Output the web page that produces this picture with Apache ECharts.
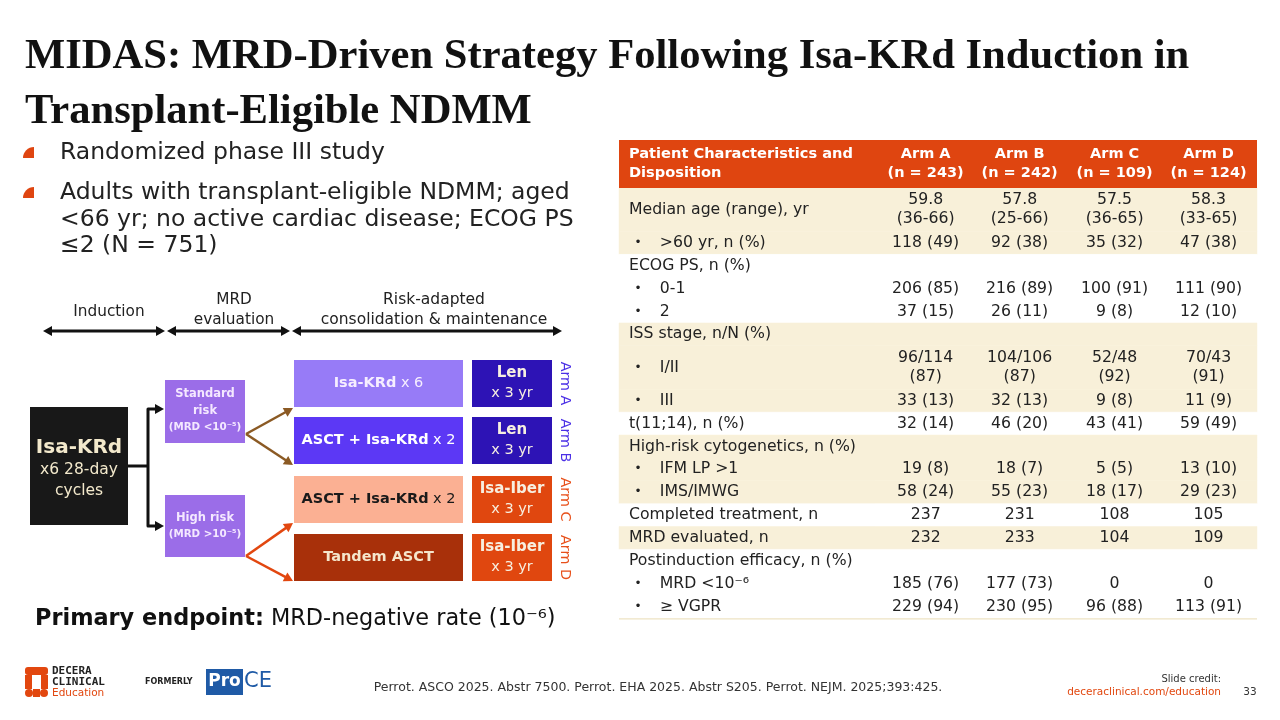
<!DOCTYPE html>
<html><head><meta charset="utf-8">
<script src="https://cdn.jsdelivr.net/npm/echarts@6/dist/echarts.min.js"></script>
<style>html,body{margin:0;padding:0;background:#fff}#c{width:1280px;height:720px}</style>
</head><body><div id="c"></div>
<script>
const FONT = '"DejaVu Sans", "Noto Sans", sans-serif';
const SERIF = '"Liberation Serif", "Times New Roman", serif';

// ---------- text content ----------
const titleLines = ['MIDAS: MRD-Driven Strategy Following Isa-KRd Induction in', 'Transplant-Eligible NDMM'];
const bulletTexts = ['Randomized phase III study', 'Adults with transplant-eligible NDMM; aged\n<66 yr; no active cardiac disease; ECOG PS\n≤2 (N = 751)'];
const phaseHeaders = ['Induction', 'MRD\nevaluation', 'Risk-adapted\nconsolidation & maintenance'];
const riskTexts = ['{b|Standard}\n{b|risk}\n{s|(MRD <10⁻⁵)}', '{b|High risk}\n{s|(MRD >10⁻⁵)}'];
const armConsolidation = ['{b|Isa-KRd}{n| x 6}', '{b|ASCT + Isa-KRd}{n| x 2}', '{b|ASCT + Isa-KRd}{n| x 2}', '{b|Tandem ASCT}'];
const armMaintenance = ['{b|Len}\n{n|x 3 yr}', '{b|Len}\n{n|x 3 yr}', '{b|Isa-Iber}\n{n|x 3 yr}', '{b|Isa-Iber}\n{n|x 3 yr}'];
const armLabels = ['Arm A', 'Arm B', 'Arm C', 'Arm D'];
const citation = 'Perrot. ASCO 2025. Abstr 7500. Perrot. EHA 2025. Abstr S205. Perrot. NEJM. 2025;393:425.';

// ---------- table data ----------
const tableHeaderLabel = 'Patient Characteristics and\nDisposition';
const armNames = ['Arm A', 'Arm B', 'Arm C', 'Arm D'];
const armN = ['(n = 243)', '(n = 242)', '(n = 109)', '(n = 124)'];
const rowLabels = ['Median age (range), yr', '>60 yr, n (%)', 'ECOG PS, n (%)', '0-1', '2',
  'ISS stage, n/N (%)', 'I/II', 'III', 't(11;14), n (%)', 'High-risk cytogenetics, n (%)',
  'IFM LP >1', 'IMS/IMWG', 'Completed treatment, n', 'MRD evaluated, n',
  'Postinduction efficacy, n (%)', 'MRD <10⁻⁶', '≥ VGPR'];
const rowIndent = [0, 1, 0, 1, 1, 0, 1, 1, 0, 0, 1, 1, 0, 0, 0, 1, 1];
const rowLines = [1.9, 1, 1, 1, 1, 1, 1.9, 1, 1, 1, 1, 1, 1, 1, 1, 1, 1];
const rowGroup = [0, 0, 1, 1, 1, 2, 2, 2, 3, 4, 4, 4, 5, 6, 7, 7, 7];
const armA = ['59.8\n(36-66)', '118 (49)', '', '206 (85)', '37 (15)', '', '96/114\n(87)', '33 (13)', '32 (14)', '', '19 (8)', '58 (24)', '237', '232', '', '185 (76)', '229 (94)'];
const armB = ['57.8\n(25-66)', '92 (38)', '', '216 (89)', '26 (11)', '', '104/106\n(87)', '32 (13)', '46 (20)', '', '18 (7)', '55 (23)', '231', '233', '', '177 (73)', '230 (95)'];
const armC = ['57.5\n(36-65)', '35 (32)', '', '100 (91)', '9 (8)', '', '52/48\n(92)', '9 (8)', '43 (41)', '', '5 (5)', '18 (17)', '108', '104', '', '0', '96 (88)'];
const armD = ['58.3\n(33-65)', '47 (38)', '', '111 (90)', '12 (10)', '', '70/43\n(91)', '11 (9)', '59 (49)', '', '13 (10)', '29 (23)', '105', '109', '', '0', '113 (91)'];
const armValues = [armA, armB, armC, armD];

// ---------- layout (table axes units) ----------
const X_MAX = 6.72, HEADER_UNITS = 2.1;
const colCenters = [3.23, 4.22, 5.22, 6.21];
const LABEL_X = 0.105, DOT_X = 0.2, INDENT_X = 0.43;
const yStart = [];
rowLines.reduce((acc, h, i) => { yStart[i] = acc; return acc + h; }, 0);
const Y_MAX = rowLines.reduce((a, b) => a + b, 0);

const ORANGE = '#df4510', CREAM = '#f8f0d9', TXT = '#222222';
const TFS = 15.7;

function renderHeader(params, api) {
  const p0 = api.coord([0, -HEADER_UNITS]);
  const p1 = api.coord([X_MAX, 0]);
  const yc = (p0[1] + p1[1]) / 2;
  const ch = [{ type: 'rect', shape: { x: p0[0], y: p0[1], width: p1[0] - p0[0], height: p1[1] - p0[1] }, style: { fill: ORANGE } }];
  ch.push({ type: 'text', style: { text: tableHeaderLabel, x: api.coord([LABEL_X, 0])[0], y: yc, align: 'left', verticalAlign: 'middle', font: 'bold 14.6px ' + FONT, fill: '#fff', lineHeight: 19 } });
  armNames.forEach((a, j) => {
    ch.push({ type: 'text', style: { text: a + '\n' + armN[j], x: api.coord([colCenters[j], 0])[0], y: yc, align: 'center', verticalAlign: 'middle', font: 'bold 14.5px ' + FONT, fill: '#fff', lineHeight: 19 } });
  });
  return { type: 'group', children: ch };
}

function renderRow(params, api) {
  const i = api.value(0);
  const p0 = api.coord([0, yStart[i]]);
  const p1 = api.coord([X_MAX, yStart[i] + rowLines[i]]);
  const yc = (p0[1] + p1[1]) / 2;
  const bg = rowGroup[i] % 2 === 0 ? CREAM : '#ffffff';
  const ch = [{ type: 'rect', shape: { x: p0[0], y: p0[1], width: p1[0] - p0[0], height: p1[1] - p0[1] }, style: { fill: bg, stroke: bg, lineWidth: 0.5 } }];
  if (rowIndent[i]) {
    ch.push({ type: 'text', style: { text: '•', x: api.coord([DOT_X, 0])[0], y: yc, align: 'center', verticalAlign: 'middle', font: '12px ' + FONT, fill: TXT } });
    ch.push({ type: 'text', style: { text: rowLabels[i], x: api.coord([INDENT_X, 0])[0], y: yc, align: 'left', verticalAlign: 'middle', font: TFS + 'px ' + FONT, fill: TXT } });
  } else {
    ch.push({ type: 'text', style: { text: rowLabels[i], x: api.coord([LABEL_X, 0])[0], y: yc, align: 'left', verticalAlign: 'middle', font: TFS + 'px ' + FONT, fill: TXT } });
  }
  armValues.forEach((arr, j) => {
    if (!arr[i]) return;
    ch.push({ type: 'text', style: { text: arr[i], x: api.coord([colCenters[j], 0])[0], y: yc, align: 'center', verticalAlign: 'middle', font: TFS + 'px ' + FONT, fill: TXT, lineHeight: 19 } });
  });
  return { type: 'group', children: ch };
}

// ---------- graphic helpers ----------
function txt(x, y, text, font, fill, align, extra) {
  return Object.assign({ type: 'text', x: x, y: y, style: { text: text, font: font, fill: fill || TXT, align: align || 'left', verticalAlign: 'middle' } }, extra || {});
}
function rect(x, y, w, h, fill) {
  return { type: 'rect', shape: { x: x, y: y, width: w, height: h }, style: { fill: fill } };
}
function head(x1, y1, x2, y2, color, size) {
  const a = Math.atan2(y2 - y1, x2 - x1);
  const s = size || 9, w = s * 0.55;
  const bx = x2 - s * Math.cos(a), by = y2 - s * Math.sin(a);
  return { type: 'polygon', shape: { points: [[x2, y2], [bx + w * Math.sin(a), by - w * Math.cos(a)], [bx - w * Math.sin(a), by + w * Math.cos(a)]] }, style: { fill: color } };
}
function arrow(x1, y1, x2, y2, color, lw, both, hs) {
  const a = Math.atan2(y2 - y1, x2 - x1), s = (hs || 9) * 0.8;
  const sx = both ? x1 + s * Math.cos(a) : x1, sy = both ? y1 + s * Math.sin(a) : y1;
  const out = [{ type: 'line', shape: { x1: sx, y1: sy, x2: x2 - s * Math.cos(a), y2: y2 - s * Math.sin(a) }, style: { stroke: color, lineWidth: lw } }, head(x1, y1, x2, y2, color, hs)];
  if (both) out.push(head(x2, y2, x1, y1, color, hs));
  return out;
}

const g = [];
// title
g.push(txt(25, 57, titleLines[0], 'bold 42.6px ' + SERIF, '#111'));
g.push(txt(25, 112, titleLines[1], 'bold 42.6px ' + SERIF, '#111'));
// bullets
const bulletY = [152, 192];
bulletY.forEach((y, k) => {
  g.push({ type: 'sector', shape: { cx: 34, cy: y + 6, r0: 0, r: 11, startAngle: Math.PI, endAngle: Math.PI * 1.5 }, style: { fill: ORANGE } });
  g.push({ type: 'text', x: 60, y: y - 12, style: { text: bulletTexts[k], font: '23.5px ' + FONT, fill: TXT, align: 'left', verticalAlign: 'top', lineHeight: 26.5 } });
});

// phase headers
g.push(txt(109, 312, phaseHeaders[0], '15.3px ' + FONT, TXT, 'center'));
g.push({ type: 'text', x: 234, y: 310, style: { text: phaseHeaders[1], font: '15.3px ' + FONT, fill: TXT, align: 'center', verticalAlign: 'middle', lineHeight: 20 } });
g.push({ type: 'text', x: 434, y: 310, style: { text: phaseHeaders[2], font: '15.5px ' + FONT, fill: TXT, align: 'center', verticalAlign: 'middle', lineHeight: 20 } });
g.push(...arrow(43, 331, 165, 331, '#111', 3, true, 9));
g.push(...arrow(167, 331, 290, 331, '#111', 3, true, 9));
g.push(...arrow(292, 331, 562, 331, '#111', 3, true, 9));

// induction box
g.push(rect(30, 407, 98, 118, '#181818'));
g.push(txt(79, 448, 'Isa-KRd', 'bold 20px ' + FONT, '#f3e9cc', 'center'));
g.push({ type: 'text', x: 79, y: 480, style: { text: 'x6 28-day\ncycles', font: '15.5px ' + FONT, fill: '#f3e9cc', align: 'center', verticalAlign: 'middle', lineHeight: 21 } });
// connector
g.push({ type: 'polyline', shape: { points: [[128, 466], [148, 466]] }, style: { stroke: '#111', lineWidth: 3 } });
g.push({ type: 'polyline', shape: { points: [[156, 409], [148, 409], [148, 526], [156, 526]] }, style: { stroke: '#111', lineWidth: 3, lineJoin: 'round' } });
g.push(head(148, 409, 164, 409, '#111', 9));
g.push(head(148, 526, 164, 526, '#111', 9));

// risk boxes
const RISK_PURPLE = '#9b6de8', RISK_TXT = '#f4e8ff';
const riskRich = { b: { font: 'bold 11.5px ' + FONT, fill: RISK_TXT, lineHeight: 16.5 }, s: { font: 'bold 10.3px ' + FONT, fill: RISK_TXT, lineHeight: 16.5 } };
g.push(rect(165, 380, 80, 63, RISK_PURPLE));
g.push({ type: 'text', x: 205, y: 411, style: { text: riskTexts[0], align: 'center', verticalAlign: 'middle', rich: riskRich } });
g.push(rect(165, 495, 80, 62, RISK_PURPLE));
g.push({ type: 'text', x: 205, y: 526, style: { text: riskTexts[1], align: 'center', verticalAlign: 'middle', rich: riskRich } });

// branching arrows
g.push(...arrow(246, 434, 293, 408, '#8b5a24', 2.5, false, 9));
g.push(...arrow(246, 434, 293, 465, '#8b5a24', 2.5, false, 9));
g.push(...arrow(246, 556, 293, 523, '#e2470f', 2.5, false, 9));
g.push(...arrow(246, 556, 293, 581, '#e2470f', 2.5, false, 9));

// arm boxes
const armY = [360, 417, 476, 534];
const armFill = ['#977bf7', '#5c38f5', '#fbb093', '#a8300a'];
const armTxt = ['#f6eeff', '#ffffff', '#1a1a1a', '#f5e6cc'];
const maintFill = ['#2d13b5', '#2d13b5', '#e0470f', '#e0470f'];
const armLabelColor = ['#4b30e6', '#4b30e6', '#e8501a', '#e8501a'];
armY.forEach((y, k) => {
  g.push(rect(294, y, 169, 47, armFill[k]));
  g.push({ type: 'text', x: 378.5, y: y + 23.5, style: { text: armConsolidation[k], fill: armTxt[k], align: 'center', verticalAlign: 'middle', rich: { b: { font: 'bold 14.5px ' + FONT, fill: armTxt[k] }, n: { font: '14.5px ' + FONT, fill: armTxt[k] } } } });
  g.push(rect(472, y, 80, 47, maintFill[k]));
  g.push({ type: 'text', x: 512, y: y + 23.5, style: { text: armMaintenance[k], fill: '#fff', align: 'center', verticalAlign: 'middle', rich: { b: { font: 'bold 15px ' + FONT, fill: '#f7efe0', lineHeight: 20 }, n: { font: '14.5px ' + FONT, fill: '#f7efe0', lineHeight: 20 } } } });
  g.push({ type: 'text', x: 565, y: y + 23.5, rotation: -Math.PI / 2, style: { text: armLabels[k], font: '14.3px ' + FONT, fill: armLabelColor[k], align: 'center', verticalAlign: 'middle' } });
});

// primary endpoint
g.push({ type: 'text', x: 35, y: 619, style: { text: '{b|Primary endpoint:}{n| MRD-negative rate (10⁻⁶)}', align: 'left', verticalAlign: 'middle', rich: { b: { font: 'bold 22.4px ' + FONT, fill: '#111' }, n: { font: '22.4px ' + FONT, fill: '#111' } } } });

// table bottom rule
g.push({ type: 'line', shape: { x1: 619, y1: 618.5, x2: 1257, y2: 618.5 }, style: { stroke: '#eee3c3', lineWidth: 2 } });

// footer logo
const LOGO = '#e2470f';
g.push({ type: 'rect', shape: { x: 25, y: 667, width: 23, height: 8, r: 3 }, style: { fill: LOGO } });
g.push(rect(25, 675, 7, 14, LOGO));
g.push(rect(41, 675, 7, 14, LOGO));
g.push({ type: 'circle', shape: { cx: 29, cy: 693, r: 4 }, style: { fill: LOGO } });
g.push({ type: 'circle', shape: { cx: 44, cy: 693, r: 4 }, style: { fill: LOGO } });
g.push(rect(33, 689, 7, 8, LOGO));
g.push(txt(52, 671, 'DECERA', 'bold 11px "DejaVu Sans Mono", monospace', '#222'));
g.push(txt(52, 682, 'CLINICAL', 'bold 11px "DejaVu Sans Mono", monospace', '#222'));
g.push(txt(52, 693, 'Education', '10.5px ' + FONT, LOGO));
g.push(txt(145, 682, 'FORMERLY', 'bold 8px ' + FONT, '#222'));
g.push(rect(206, 669, 37, 26, '#1f5aa6'));
g.push(txt(224.5, 682, 'Pro', 'bold 17px ' + FONT, '#fff', 'center'));
g.push(txt(244, 682, 'CE', '21px ' + FONT, '#1f5aa6'));
g.push(txt(658, 688, citation, '12.5px ' + FONT, '#333', 'center'));
g.push(txt(1221, 679, 'Slide credit:', '10px ' + FONT, '#333', 'right'));
g.push(txt(1221, 692, 'deceraclinical.com/education', '10.5px ' + FONT, '#e2470f', 'right'));
g.push(txt(1250, 692, '33', '10.5px ' + FONT, '#333', 'center'));

const chart = echarts.init(document.getElementById('c'), null, { renderer: 'canvas' });
chart.setOption({
  backgroundColor: '#ffffff',
  animation: false,
  grid: { left: 619, top: 140, width: 638, height: 478, containLabel: false },
  xAxis: { type: 'value', min: 0, max: X_MAX, show: false },
  yAxis: { type: 'value', min: -HEADER_UNITS, max: Y_MAX, inverse: true, show: false },
  series: [
    { type: 'custom', renderItem: renderRow, data: rowLabels.map((_, i) => [i]), encode: { x: -1, y: -1 }, silent: true },
    { type: 'custom', renderItem: renderHeader, data: [[0]], encode: { x: -1, y: -1 }, silent: true }
  ],
  graphic: { elements: g }
});
</script></body></html>
